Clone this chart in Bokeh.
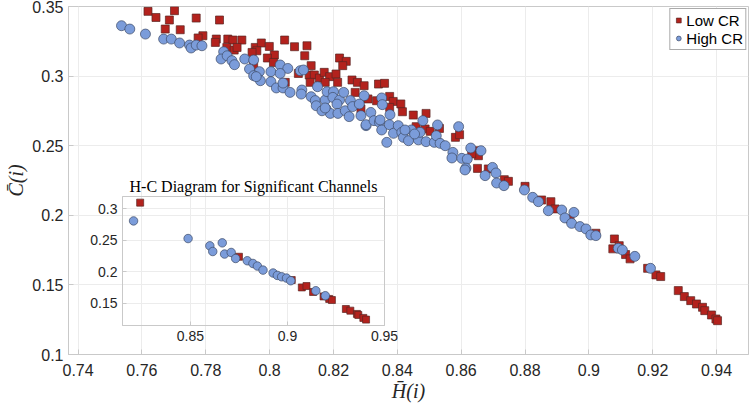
from bokeh.plotting import figure
from bokeh.models import Range1d, FixedTicker, Legend, LegendItem
from bokeh.layouts import column
from bokeh.embed import file_html
from bokeh.resources import INLINE

# ---------------- data (H-bar, C-bar) ----------------
low_cr = [
    (0.7619, 0.3465), (0.7702, 0.3470), (0.7644, 0.3421), (0.7686, 0.3403), (0.7770, 0.3417),
    (0.7843, 0.3403), (0.7673, 0.3338), (0.7720, 0.3333), (0.7791, 0.3290), (0.7776, 0.3274),
    (0.7833, 0.3266), (0.7830, 0.3242), (0.7869, 0.3266), (0.7885, 0.3259), (0.7913, 0.3259),
    (0.7866, 0.3206), (0.7889, 0.3187), (0.7898, 0.3206), (0.7955, 0.3206), (0.7974, 0.3238),
    (0.7960, 0.3182), (0.7945, 0.3170), (0.7999, 0.3213), (0.8047, 0.3259), (0.8078, 0.3211),
    (0.8015, 0.3152), (0.7993, 0.3130), (0.8012, 0.3098), (0.8090, 0.3019), (0.8049, 0.2955),
    (0.7950, 0.3075),
    (0.8117, 0.3218), (0.8110, 0.3146), (0.8130, 0.3075), (0.8124, 0.3008), (0.8140, 0.3008),
    (0.8156, 0.2986), (0.8171, 0.3027), (0.8188, 0.2996), (0.8208, 0.3015), (0.8127, 0.2955),
    (0.8174, 0.2955), (0.8213, 0.2955), (0.8219, 0.3130), (0.8240, 0.3106), (0.8229, 0.3075),
    (0.8258, 0.2972), (0.8275, 0.2955), (0.8296, 0.2931), (0.8268, 0.2883), (0.8308, 0.2836),
    (0.8286, 0.2764),
    (0.8341, 0.2943), (0.8360, 0.2948), (0.8335, 0.2823), (0.8376, 0.2854), (0.8387, 0.2818),
    (0.8411, 0.2800), (0.8416, 0.2744), (0.8376, 0.2775), (0.8450, 0.2720), (0.8490, 0.2732),
    (0.8459, 0.2637), (0.8487, 0.2620), (0.8503, 0.2603), (0.8532, 0.2624), (0.8582, 0.2560),
    (0.8595, 0.2579), (0.8647, 0.2464), (0.8654, 0.2428),
    (0.8633, 0.2441), (0.8651, 0.2337), (0.8685, 0.2333), (0.8735, 0.2256), (0.8748, 0.2244),
    (0.8800, 0.2208), (0.8852, 0.2110), (0.8881, 0.2098), (0.8894, 0.2046), (0.8941, 0.1974),
    (0.9022, 0.1871), (0.9080, 0.1830), (0.9095, 0.1782), (0.9075, 0.1759), (0.9115, 0.1718),
    (0.9129, 0.1687), (0.9184, 0.1619), (0.9210, 0.1572), (0.9225, 0.1560), (0.9280, 0.1459),
    (0.9299, 0.1416), (0.9319, 0.1387), (0.9337, 0.1363), (0.9356, 0.1339), (0.9363, 0.1315),
    (0.9384, 0.1284), (0.9398, 0.1255), (0.9403, 0.1243),
]

high_cr = [
    (0.7536, 0.3362), (0.7562, 0.3338), (0.7611, 0.3302), (0.7668, 0.3266), (0.7692, 0.3266),
    (0.7718, 0.3238), (0.7749, 0.3223), (0.7754, 0.3202), (0.7770, 0.3223), (0.7788, 0.3218),
    (0.7856, 0.3175), (0.7848, 0.3123), (0.7867, 0.3146), (0.7882, 0.3111), (0.7890, 0.3082),
    (0.7922, 0.3123), (0.7950, 0.3116), (0.7937, 0.3051), (0.7968, 0.3032), (0.7950, 0.3003),
    (0.7971, 0.2967), (0.7958, 0.2996), (0.8004, 0.3032), (0.8004, 0.2960), (0.8021, 0.2915),
    (0.8042, 0.2915), (0.8033, 0.3080), (0.8057, 0.3055), (0.8033, 0.3019), (0.8042, 0.2950),
    (0.8064, 0.2883), (0.8096, 0.3039),
    (0.8106, 0.3044), (0.8101, 0.2900), (0.8099, 0.2871), (0.8130, 0.2852), (0.8143, 0.2824),
    (0.8150, 0.2924), (0.8146, 0.2787), (0.8174, 0.2828), (0.8180, 0.2888), (0.8200, 0.2888),
    (0.8198, 0.2847), (0.8219, 0.2828), (0.8211, 0.2799), (0.8177, 0.2764), (0.8190, 0.2732),
    (0.8214, 0.2732), (0.8232, 0.2883), (0.8237, 0.2751), (0.8253, 0.2824), (0.8260, 0.2781),
    (0.8249, 0.2709), (0.8286, 0.2716), (0.8296, 0.2859), (0.8281, 0.2799), (0.8302, 0.2644),
    (0.8164, 0.2751), (0.8174, 0.2771),
    (0.8302, 0.2651), (0.8317, 0.2739), (0.8327, 0.2680), (0.8351, 0.2843), (0.8353, 0.2795),
    (0.8344, 0.2668), (0.8351, 0.2613), (0.8377, 0.2723), (0.8375, 0.2651), (0.8388, 0.2589),
    (0.8403, 0.2644), (0.8414, 0.2596), (0.8419, 0.2560), (0.8435, 0.2536), (0.8444, 0.2613),
    (0.8367, 0.2524), (0.8466, 0.2542), (0.8471, 0.2596), (0.8480, 0.2680), (0.8490, 0.2529),
    (0.8516, 0.2524), (0.8522, 0.2572), (0.8526, 0.2649), (0.8534, 0.2517), (0.8550, 0.2500),
    (0.8574, 0.2452), (0.8571, 0.2412), (0.8592, 0.2637), (0.8602, 0.2409), (0.8619, 0.2404),
    (0.8630, 0.2483), (0.8615, 0.2339), (0.8346, 0.2685), (0.8424, 0.2613), (0.8454, 0.2584),
    (0.8662, 0.2464), (0.8612, 0.2326), (0.8675, 0.2285), (0.8698, 0.2344), (0.8709, 0.2304),
    (0.8711, 0.2232), (0.8734, 0.2213), (0.8798, 0.2182), (0.8824, 0.2129), (0.8842, 0.2098),
    (0.8873, 0.2033), (0.8915, 0.2038), (0.8953, 0.2021), (0.8925, 0.1981), (0.8946, 0.1942),
    (0.8972, 0.1919), (0.8991, 0.1902), (0.9006, 0.1859), (0.9022, 0.1854), (0.9092, 0.1763),
    (0.9105, 0.1751), (0.9144, 0.1705), (0.9193, 0.1619),
]

inset_low_cr = [
    (0.8241, 0.3093), (0.8750, 0.2237), (0.9022, 0.1869), (0.9074, 0.1752), (0.9098, 0.1774),
    (0.9132, 0.1680), (0.9186, 0.1610), (0.9215, 0.1570), (0.9229, 0.1553), (0.9301, 0.1411),
    (0.9324, 0.1385), (0.9358, 0.1333), (0.9365, 0.1317), (0.9391, 0.1270), (0.9405, 0.1243),
]
inset_high_cr = [
    (0.8207, 0.2804), (0.8488, 0.2525), (0.8600, 0.2410), (0.8615, 0.2320), (0.8664, 0.2457),
    (0.8676, 0.2280), (0.8710, 0.2305), (0.8733, 0.2210), (0.8793, 0.2174), (0.8822, 0.2131),
    (0.8845, 0.2090), (0.8874, 0.2026), (0.8926, 0.1980), (0.8948, 0.1942), (0.8970, 0.1920),
    (0.8995, 0.1900), (0.9017, 0.1858), (0.9146, 0.1700), (0.9195, 0.1621),
]

x_ticks = [0.74, 0.76, 0.78, 0.8, 0.82, 0.84, 0.86, 0.88, 0.9, 0.92, 0.94]
x_tick_labels = ["0.74", "0.76", "0.78", "0.8", "0.82", "0.84", "0.86", "0.88", "0.9", "0.92", "0.94"]
y_ticks = [0.1, 0.15, 0.2, 0.25, 0.3, 0.35]
y_tick_labels = ["0.1", "0.15", "0.2", "0.25", "0.3", "0.35"]
inset_x_ticks = [0.85, 0.9, 0.95]
inset_x_tick_labels = ["0.85", "0.9", "0.95"]
inset_y_ticks = [0.15, 0.2, 0.25, 0.3]
inset_y_tick_labels = ["0.15", "0.2", "0.25", "0.3"]

labels = ["Low CR", "High CR"]
inset_title = "H-C Diagram for Significant Channels"
x_label = "H\u0304(i)"
y_label = "C\u0304(i)"

# ---------------- style ----------------
RED = "#B3221D"
RED_EDGE = "#5a2724"
BLUE = "#7B9CDA"
BLUE_EDGE = "#3e4b66"
AXIS = "#c9c9c9"
GRID = "#ececec"
TXT = "#262626"
SANS = "Liberation Sans"
SERIF = "Liberation Serif"


def split(pairs):
    return [a for a, _ in pairs], [b for _, b in pairs]


low_h, low_c = split(low_cr)
high_h, high_c = split(high_cr)
ilow_h, ilow_c = split(inset_low_cr)
ihigh_h, ihigh_c = split(inset_high_cr)

p = figure(frame_width=680, frame_height=348,
           x_range=Range1d(0.737, 0.95), y_range=Range1d(0.1, 0.35),
           output_backend="svg", toolbar_location=None,
           min_border_left=68, min_border_right=2, min_border_top=6, min_border_bottom=52)
p.background_fill_color = "white"
p.border_fill_color = "white"
p.outline_line_color = AXIS

p.xaxis.ticker = FixedTicker(ticks=x_ticks)
p.xaxis.major_label_overrides = dict(zip(x_ticks, x_tick_labels))
p.yaxis.ticker = FixedTicker(ticks=y_ticks)
p.yaxis.major_label_overrides = dict(zip(y_ticks, y_tick_labels))
p.xaxis.axis_label = x_label
p.yaxis.axis_label = y_label
for ax in (p.xaxis, p.yaxis):
    ax.axis_line_color = AXIS
    ax.major_tick_line_color = AXIS
    ax.major_tick_in = 5
    ax.major_tick_out = 0
    ax.minor_tick_line_color = None
    ax.major_label_text_font = SANS
    ax.major_label_text_font_size = "16px"
    ax.major_label_text_color = TXT
    ax.axis_label_text_font = SERIF
    ax.axis_label_text_font_style = "italic"
    ax.axis_label_text_font_size = "20px"
    ax.axis_label_text_color = TXT
p.xaxis.major_label_standoff = 9
p.yaxis.major_label_standoff = 5
p.xaxis.axis_label_standoff = 1
p.yaxis.axis_label_standoff = 2

p.xgrid.ticker = FixedTicker(ticks=x_ticks)
p.ygrid.ticker = FixedTicker(ticks=y_ticks)
p.xgrid.grid_line_color = GRID
p.ygrid.grid_line_color = GRID

r_low = p.scatter(low_h, low_c, marker="square", size=8, fill_color=RED,
                  line_color=RED_EDGE, line_width=0.7)
r_high = p.scatter(high_h, high_c, marker="circle", size=10, fill_color=BLUE,
                   line_color=BLUE_EDGE, line_width=0.7)

legend = Legend(items=[LegendItem(label=labels[0], renderers=[r_low]),
                       LegendItem(label=labels[1], renderers=[r_high])],
                location="top_right", margin=2, padding=2, spacing=0,
                glyph_width=12, glyph_height=18, label_standoff=2,
                label_text_font=SANS, label_text_font_size="15px", label_text_color="#000000",
                border_line_color="#555555", border_line_width=1,
                background_fill_color="white", background_fill_alpha=1)
p.add_layout(legend)

# ---------------- inset ----------------
# left border equals the main plot's (the column aligns plot frames)
inset = figure(frame_width=262, frame_height=129,
               x_range=Range1d(0.815, 0.95), y_range=Range1d(0.115, 0.319),
               title=inset_title, output_backend="svg", toolbar_location=None,
               min_border_left=68, min_border_right=14, min_border_top=26, min_border_bottom=24)
inset.background_fill_alpha = 0
inset.border_fill_alpha = 0
inset.outline_line_color = AXIS
inset.title.align = "center"
inset.title.text_font = SERIF
inset.title.text_font_style = "normal"
inset.title.text_font_size = "16px"
inset.title.text_color = "#000000"
inset.title.standoff = 3
inset.xaxis.ticker = FixedTicker(ticks=inset_x_ticks)
inset.xaxis.major_label_overrides = dict(zip(inset_x_ticks, inset_x_tick_labels))
inset.yaxis.ticker = FixedTicker(ticks=inset_y_ticks)
inset.yaxis.major_label_overrides = dict(zip(inset_y_ticks, inset_y_tick_labels))
for ax in (inset.xaxis, inset.yaxis):
    ax.axis_label = None
    ax.axis_line_color = AXIS
    ax.major_tick_line_color = AXIS
    ax.major_tick_in = 4
    ax.major_tick_out = 0
    ax.minor_tick_line_color = None
    ax.major_label_text_font = SANS
    ax.major_label_text_font_size = "14px"
    ax.major_label_text_color = TXT
    ax.major_label_standoff = 5
inset.xgrid.ticker = FixedTicker(ticks=inset_x_ticks)
inset.ygrid.ticker = FixedTicker(ticks=inset_y_ticks)
inset.xgrid.grid_line_color = GRID
inset.ygrid.grid_line_color = GRID
inset.scatter(ilow_h, ilow_c, marker="square", size=7, fill_color=RED,
              line_color=RED_EDGE, line_width=0.7)
inset.scatter(ihigh_h, ihigh_c, marker="circle", size=8.5, fill_color=BLUE,
              line_color=BLUE_EDGE, line_width=0.7)
inset.margin = (-236, 0, 0, 54)

layout = column(p, inset)

open("out.html", "w").write(file_html(layout, INLINE))
